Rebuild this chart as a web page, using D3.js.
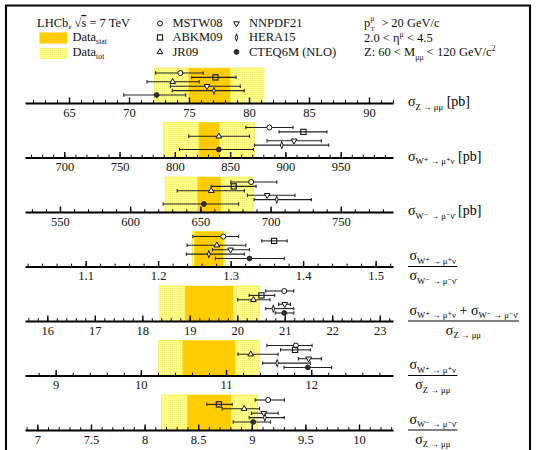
<!DOCTYPE html>
<html>
<head>
<meta charset="utf-8">
<script src="https://cdn.jsdelivr.net/npm/d3@7"></script>
<style>
  body { margin: 0; background: #fff; }
  svg { display: block; font-family: "Liberation Serif", "DejaVu Serif", serif; }
  svg text { font-family: "Liberation Serif", "DejaVu Serif", serif; }
</style>
</head>
<body>
<svg id="summary" width="536" height="450"></svg>
<script>
(() => {

    // pdf sets, drawn top to bottom in every panel
    const pdf_sets = ['MSTW08', 'ABKM09', 'JR09', 'NNPDF21', 'HERA15', 'CTEQ6M (NLO)'];
    const pdf_symbols = ['circle', 'square', 'triangle', 'nabla', 'diamond', 'cteq'];

    // LHCb measurement bands, one [low, high] per panel
    const data_stat = [[74.97, 78.44], [821.7, 840.4], [648.0, 664.6], [1.250, 1.290], [18.90, 19.92], [10.49, 11.11], [8.398, 8.808]];
    const data_tot = [[72.11, 81.25], [790.1, 872.0], [624.9, 687.6], [1.247, 1.293], [18.37, 20.46], [10.21, 11.39], [8.156, 9.054]];

    // theory predictions, one row per panel, columns follow pdf_sets
    const theory_value = [
        [74.28, 77.20, 73.64, 76.50, 77.08, 72.30],
        [885.5, 916.3, 839.8, 907.8, 896.7, 839.8],
        [686.2, 673.8, 657.7, 697.6, 704.4, 652.5],
        [1.290, 1.360, 1.281, 1.300, 1.270, 1.326],
        [20.99, 20.51, 20.34, 21.00, 20.76, 20.99],
        [11.82, 11.81, 11.29, 11.97, 11.60, 11.96],
        [9.153, 8.693, 8.929, 9.113, 9.122, 9.013]
    ];
    const theory_low = [
        [72.22, 75.22, 71.50, 73.44, 73.60, 69.56],
        [864.2, 894.2, 812.6, 883.4, 872.0, 804.2],
        [671.7, 657.7, 633.5, 683.5, 688.3, 623.5],
        [1.248, 1.343, 1.240, 1.275, 1.239, 1.279],
        [20.60, 20.25, 20.01, 20.87, 20.60, 20.80],
        [11.48, 11.64, 11.14, 11.85, 11.43, 11.68],
        [9.032, 8.581, 8.724, 8.998, 8.976, 8.827]
    ];
    const theory_high = [
        [76.19, 78.92, 75.86, 79.27, 79.60, 74.72],
        [906.9, 937.6, 867.5, 932.5, 939.1, 871.1],
        [704.4, 689.7, 681.4, 717.4, 729.1, 677.2],
        [1.311, 1.378, 1.321, 1.326, 1.319, 1.374],
        [21.19, 20.79, 20.69, 21.12, 21.19, 21.19],
        [12.01, 11.99, 11.61, 12.12, 11.99, 12.24],
        [9.303, 8.817, 9.073, 9.246, 9.303, 9.175]
    ];

    // axis ranges and tick steps per panel
    const axis_domain = [[61.33, 92.0], [664.5, 997.3], [525.1, 787.2], [1.0164, 1.524], [15.53, 23.28], [8.64, 12.96], [6.885, 10.317]];
    const major_step = [5, 50, 50, 0.1, 1, 1, 0.5];
    const minor_step = [1, 10, 10, 0.02, 0.2, 0.2, 0.1];

    // axis titles: [text, is_subscript]
    const sig_z = [['σ', 0], ['Z → μμ', 1]];
    const sig_wp = [['σ', 0], ['W⁺ → μ⁺ν', 1]];
    const sig_wm = [['σ', 0], ['W⁻ → μ⁻ν̄', 1]];
    const pb = [[' [pb]', 0]];
    const label_num = [sig_z.concat(pb), sig_wp.concat(pb), sig_wm.concat(pb), sig_wp, sig_wp.concat([[' + ', 0]], sig_wm), sig_wp, sig_wm];
    const label_den = [null, null, null, sig_wm, sig_z, sig_z, sig_z];

    // layout
    const x_left = 25;
    const x_right = 393;
    const first_axis_y = 103;
    const panel_gap = 54.5;
    const band_height = 35;
    const row_offsets = [-30, -25.6, -21.2, -16.8, -12.4, -8];
    const label_x = 408;

    const stat_color = '#ffcc00';
    const serif = '"Liberation Serif", "DejaVu Serif", serif';

    let svg = d3.select('#summary');

    // dotted yellow fill used for the total uncertainty
    let defs = svg.append('defs');
    let pattern = defs.append('pattern')
        .attr('id', 'tot_fill')
        .attr('width', 2)
        .attr('height', 2)
        .attr('patternUnits', 'userSpaceOnUse');
    pattern.append('rect').attr('width', 2).attr('height', 2).attr('fill', '#ffff8c');
    pattern.append('rect').attr('width', 1).attr('height', 1).attr('fill', '#f3ee6c');

    // frame
    svg.append('rect')
        .attr('x', 6)
        .attr('y', 5.5)
        .attr('width', 524)
        .attr('height', 470)
        .attr('fill', 'none')
        .attr('stroke', '#000')
        .attr('stroke-width', 2);

    // rich text with subscripts
    let add_rich = function (g, parts, x, y, size, anchor) {
        let t = g.append('text')
            .attr('x', x)
            .attr('y', y)
            .attr('font-size', size)
            .attr('text-anchor', anchor);
        let shifted = false;
        for (const [txt, sub] of parts) {
            let span = t.append('tspan').text(txt);
            if (sub && !shifted) { span.attr('dy', 3.5).attr('font-size', size * 0.62); shifted = true; }
            else if (sub) { span.attr('font-size', size * 0.62); }
            else if (!sub && shifted) { span.attr('dy', -3.5); shifted = false; }
        }
        return t;
    }

    let draw_marker = function (g, kind, x, y) {
        if (kind == 'circle') {
            g.append('circle').attr('cx', x).attr('cy', y).attr('r', 2.5)
                .attr('fill', '#fff').attr('stroke', '#111').attr('stroke-width', 1);
        } else if (kind == 'cteq') {
            g.append('circle').attr('cx', x).attr('cy', y).attr('r', 2.4)
                .attr('fill', '#333').attr('stroke', '#111').attr('stroke-width', 0.8);
        } else if (kind == 'square') {
            g.append('rect').attr('x', x - 2.6).attr('y', y - 2.6).attr('width', 5.2).attr('height', 5.2)
                .attr('fill', 'none').attr('stroke', '#111').attr('stroke-width', 1.1);
        } else {
            let sym = kind == 'diamond' ? d3.symbolDiamond : d3.symbolTriangle;
            let size = kind == 'diamond' ? 10 : 14;
            g.append('path')
                .attr('d', d3.symbol().type(sym).size(size)())
                .attr('transform', `translate(${x},${y})` + (kind == 'nabla' ? ' rotate(180)' : '') + (kind == 'diamond' ? ' scale(0.8,1.15)' : ''))
                .attr('fill', '#fff')
                .attr('stroke', '#111')
                .attr('stroke-width', 1);
        }
    }

    let fmt = (d) => String(+d.toFixed(3));

    for (let p = 0; p < axis_domain.length; p++) {

        let axis_y = first_axis_y + p * panel_gap;
        let g = svg.append('g');

        let x_scale = d3.scaleLinear()
            .domain(axis_domain[p])
            .range([x_left, x_right]);

        // bands
        g.append('rect')
            .attr('x', x_scale(data_tot[p][0]))
            .attr('y', axis_y - band_height)
            .attr('width', x_scale(data_tot[p][1]) - x_scale(data_tot[p][0]))
            .attr('height', band_height)
            .attr('fill', 'url(#tot_fill)')
            .attr('stroke', '#f0ea40')
            .attr('stroke-width', 0.7);

        g.append('rect')
            .attr('x', x_scale(data_stat[p][0]))
            .attr('y', axis_y - band_height)
            .attr('width', x_scale(data_stat[p][1]) - x_scale(data_stat[p][0]))
            .attr('height', band_height)
            .attr('fill', stat_color);

        // tick values
        let lo = axis_domain[p][0], hi = axis_domain[p][1];
        let major = d3.range(Math.ceil(lo / major_step[p] - 1e-9), Math.floor(hi / major_step[p] + 1e-9) + 1)
            .map((k) => +(k * major_step[p]).toFixed(4));
        let minor = d3.range(Math.ceil(lo / minor_step[p] - 1e-9), Math.floor(hi / minor_step[p] + 1e-9) + 1)
            .map((k) => +(k * minor_step[p]).toFixed(4));

        g.append('g')
            .attr('transform', `translate(0, ${axis_y})`)
            .call(d3.axisBottom(x_scale).tickValues(minor).tickSize(-2.8).tickSizeOuter(0).tickFormat(''))
            .call((a) => a.select('.domain').remove())
            .selectAll('line').attr('stroke-width', 1);

        let ax = g.append('g')
            .attr('transform', `translate(0, ${axis_y})`)
            .call(d3.axisBottom(x_scale).tickValues(major).tickSize(-5.5).tickSizeOuter(0).tickPadding(5).tickFormat(fmt))
            .attr('font-family', serif);
        ax.select('.domain').attr('stroke-width', 2);
        ax.selectAll('line').attr('stroke-width', 1.4);
        ax.selectAll('text')
            .attr('font-size', 12.5)
            .style('font-family', serif)
            .attr('fill', '#111');

        // theory points
        for (let i = 0; i < pdf_sets.length; i++) {
            let y = axis_y + row_offsets[i];
            let x0 = x_scale(theory_low[p][i]);
            let x1 = x_scale(theory_high[p][i]);
            g.append('line').attr('x1', x0).attr('x2', x1).attr('y1', y).attr('y2', y)
                .attr('stroke', '#222').attr('stroke-width', 1.1);
            for (const xc of [x0, x1]) {
                g.append('line').attr('x1', xc).attr('x2', xc).attr('y1', y - 1.7).attr('y2', y + 1.7)
                    .attr('stroke', '#222').attr('stroke-width', 1.1);
            }
        }
        for (let i = 0; i < pdf_sets.length; i++) {
            draw_marker(g, pdf_symbols[i], x_scale(theory_value[p][i]), axis_y + row_offsets[i]);
        }

        // panel title
        if (label_den[p] == null) {
            add_rich(g, label_num[p], label_x, axis_y + 3, 14, 'start');
        } else {
            let num = add_rich(g, label_num[p], 0, axis_y - 6.5, 14, 'middle');
            let den = add_rich(g, label_den[p], 0, axis_y + 13.5, 14, 'middle');
            let w = Math.max(num.node().getComputedTextLength(), den.node().getComputedTextLength()) + 3;
            num.attr('x', label_x + w / 2);
            den.attr('x', label_x + w / 2);
            g.append('line')
                .attr('x1', label_x).attr('x2', label_x + w)
                .attr('y1', axis_y).attr('y2', axis_y)
                .attr('stroke', '#000').attr('stroke-width', 1);
        }
    }

    // legend
    let legend = svg.append('g').attr('font-size', 12.5).attr('fill', '#111');

    let lhcb = legend.append('text').attr('x', 37).attr('y', 27);
    lhcb.append('tspan').text('LHCb, √');
    lhcb.append('tspan').text('s').style('text-decoration', 'overline');
    lhcb.append('tspan').text(' = 7 TeV');

    legend.append('rect').attr('x', 39.5).attr('y', 32.5).attr('width', 28).attr('height', 11).attr('fill', stat_color);
    legend.append('rect').attr('x', 39.5).attr('y', 48).attr('width', 28).attr('height', 11).attr('fill', 'url(#tot_fill)');
    add_rich(legend, [['Data', 0], ['stat', 1]], 72.5, 40.5, 12.5, 'start');
    add_rich(legend, [['Data', 0], ['tot', 1]], 72.5, 55.5, 12.5, 'start');

    let legend_rows = [23.5, 37.5, 52];
    let legend_text_y = [27, 41, 55.5];
    for (let i = 0; i < pdf_sets.length; i++) {
        let col = Math.floor(i / 3), row = i % 3;
        let mx = col == 0 ? 160 : 236.5;
        let tx = col == 0 ? 172.5 : 249;
        draw_marker(legend, pdf_symbols[i], mx, legend_rows[row]);
        legend.append('text').attr('x', tx).attr('y', legend_text_y[row]).text(pdf_sets[i]);
    }

    // kinematic cuts
    let pt = legend.append('text').attr('x', 364).attr('y', 26.5);
    pt.append('tspan').text('p');
    pt.append('tspan').attr('dy', -5.5).attr('font-size', 7.5).text('μ');
    pt.append('tspan').attr('x', 370.5).attr('dy', 9.5).attr('font-size', 7).text('T');
    pt.append('tspan').attr('x', 378).attr('dy', -4).text(' > 20 GeV/c');

    let eta = legend.append('text').attr('x', 364).attr('y', 41.5);
    eta.append('tspan').text('2.0 < η');
    eta.append('tspan').attr('dy', -5).attr('font-size', 8).text('μ');
    eta.append('tspan').attr('dy', 5).text(' < 4.5');

    let mass = legend.append('text').attr('x', 364).attr('y', 56);
    mass.append('tspan').text('Z: 60 < M');
    mass.append('tspan').attr('dy', 3.5).attr('font-size', 8).text('μμ');
    mass.append('tspan').attr('dy', -3.5).text(' < 120 GeV/c');
    mass.append('tspan').attr('dy', -5).attr('font-size', 8).text('2');

})();
</script>
</body>
</html>
